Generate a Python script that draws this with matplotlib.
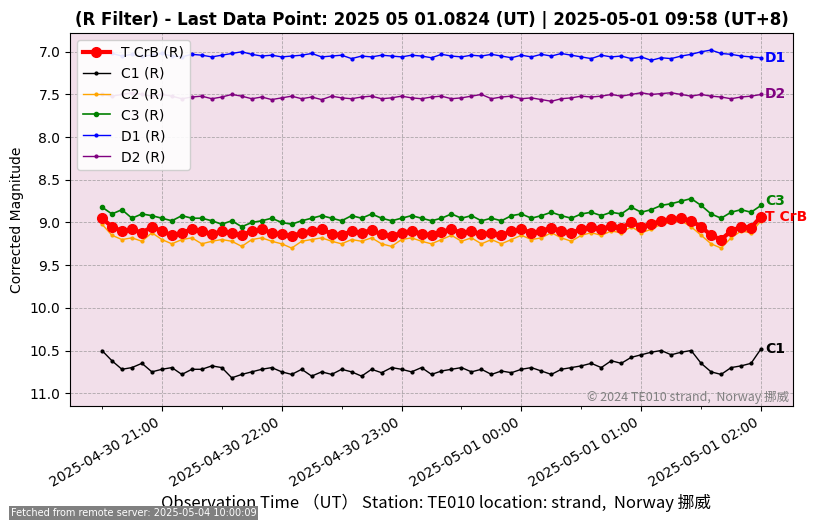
import matplotlib
matplotlib.use("Agg")
import matplotlib.pyplot as plt
import matplotlib.dates as mdates
import pandas as pd

times = pd.date_range('2025-04-30 20:30', '2025-05-01 02:00', freq='5min')

tcrb = [8.95,9.05,9.10,9.08,9.12,9.05,9.10,9.15,9.12,9.08,
        9.10,9.14,9.10,9.12,9.15,9.10,9.08,9.12,9.14,9.16,
        9.12,9.10,9.08,9.13,9.15,9.10,9.12,9.09,9.14,9.16,
        9.12,9.10,9.13,9.15,9.11,9.08,9.12,9.10,9.14,9.12,
        9.15,9.10,9.08,9.12,9.10,9.06,9.10,9.12,9.08,9.05,
        9.08,9.04,9.06,9.00,9.05,9.02,8.98,8.96,8.95,8.98,
        9.05,9.15,9.20,9.10,9.05,9.06,8.93]
c2 = [9.02,9.15,9.20,9.18,9.22,9.12,9.20,9.25,9.20,9.18,
      9.25,9.22,9.20,9.22,9.28,9.20,9.18,9.22,9.25,9.30,
      9.22,9.20,9.18,9.22,9.25,9.20,9.22,9.18,9.25,9.28,
      9.20,9.18,9.22,9.25,9.20,9.15,9.22,9.18,9.25,9.20,
      9.25,9.20,9.15,9.20,9.18,9.12,9.18,9.22,9.15,9.12,
      9.15,9.10,9.12,9.05,9.12,9.08,9.02,9.00,8.98,9.05,
      9.15,9.25,9.30,9.18,9.10,9.12,8.98]
c3 = [8.82,8.90,8.85,8.95,8.90,8.92,8.95,8.98,8.92,8.95,
      8.95,8.98,9.02,8.98,9.05,9.00,8.98,8.95,9.00,9.02,
      8.98,8.95,8.92,8.95,8.98,8.92,8.95,8.90,8.95,8.98,
      8.95,8.92,8.95,8.98,8.95,8.90,8.95,8.92,8.98,8.95,
      8.98,8.92,8.90,8.95,8.92,8.88,8.92,8.95,8.90,8.88,
      8.92,8.88,8.90,8.82,8.88,8.85,8.80,8.78,8.75,8.72,
      8.80,8.90,8.95,8.88,8.85,8.88,8.80]
c1 = [10.50,10.62,10.72,10.70,10.65,10.75,10.72,10.70,10.78,10.72,
      10.72,10.68,10.70,10.82,10.78,10.75,10.72,10.70,10.75,10.78,
      10.72,10.80,10.75,10.78,10.72,10.75,10.80,10.72,10.76,10.70,
      10.72,10.75,10.70,10.78,10.74,10.72,10.70,10.75,10.72,10.78,
      10.74,10.76,10.72,10.70,10.74,10.78,10.72,10.70,10.68,10.65,
      10.70,10.62,10.65,10.58,10.55,10.52,10.50,10.55,10.52,10.50,
      10.65,10.75,10.78,10.70,10.68,10.65,10.48]
d1 = [7.00,7.02,7.05,7.03,7.05,7.04,7.02,7.05,7.06,7.03,
      7.04,7.06,7.04,7.02,7.00,7.03,7.05,7.04,7.06,7.05,
      7.04,7.02,7.06,7.05,7.04,7.08,7.05,7.06,7.04,7.05,
      7.06,7.04,7.05,7.07,7.03,7.05,7.06,7.04,7.05,7.03,
      7.05,7.07,7.04,7.06,7.03,7.05,7.02,7.04,7.06,7.08,
      7.04,7.06,7.05,7.08,7.06,7.10,7.07,7.08,7.05,7.03,
      7.00,6.98,7.02,7.03,7.05,7.06,7.07]
d2 = [7.50,7.52,7.50,7.48,7.50,7.52,7.50,7.52,7.55,7.53,
      7.52,7.55,7.53,7.50,7.52,7.55,7.53,7.56,7.54,7.52,
      7.55,7.53,7.56,7.52,7.54,7.55,7.53,7.52,7.55,7.54,
      7.52,7.54,7.55,7.53,7.52,7.55,7.54,7.52,7.50,7.55,
      7.53,7.52,7.55,7.54,7.56,7.58,7.55,7.54,7.52,7.53,
      7.52,7.50,7.52,7.50,7.48,7.50,7.49,7.48,7.50,7.52,
      7.50,7.52,7.53,7.55,7.53,7.52,7.50]

fig = plt.figure(figsize=(8.15, 5.24), dpi=100)
ax = fig.add_axes([70/815, 1-406/524, 723/815, 373/524])
ax.set_facecolor('#f2dfea')

ax.plot(times, tcrb, '-o', color='red', lw=3, ms=7, label='T CrB (R)', zorder=5)
ax.plot(times, c1, '-o', color='black', lw=1, ms=2, label='C1 (R)')
ax.plot(times, c2, '-o', color='orange', lw=1, ms=2, label='C2 (R)')
ax.plot(times, c3, '-o', color='green', lw=1.2, ms=3, label='C3 (R)')
ax.plot(times, d1, '-o', color='blue', lw=1, ms=2, label='D1 (R)')
ax.plot(times, d2, '-o', color='purple', lw=1, ms=2, label='D2 (R)')

xt = times[-1] + pd.Timedelta(minutes=2)
for txt, y, col in [('D1', d1[-1], 'blue'), ('D2', d2[-1], 'purple'), ('C3', c3[-1] - 0.05, 'green'),
                    ('T CrB', tcrb[-1], 'red'), ('C1', c1[-1], 'black')]:
    ax.text(xt, y, txt, color=col, fontweight='bold', fontsize=10, va='center', ha='left')

ax.set_xlim(pd.Timestamp('2025-04-30 20:14'), pd.Timestamp('2025-05-01 02:16'))
ax.set_ylim(11.15, 6.78)
ax.xaxis.set_major_locator(mdates.HourLocator())
ax.xaxis.set_minor_locator(mdates.MinuteLocator(byminute=[30]))
ax.xaxis.set_major_formatter(mdates.DateFormatter('%Y-%m-%d %H:%M'))
plt.setp(ax.get_xticklabels(), rotation=30, ha='right', fontsize=10)
ax.grid(True, which='major', linestyle='--', color='gray', alpha=0.6, lw=0.6)
ax.set_ylabel('Corrected Magnitude', fontsize=10)
ax.set_title('(R Filter) - Last Data Point: 2025 05 01.0824 (UT) | 2025-05-01 09:58 (UT+8)',
             fontweight='bold', fontsize=12)
ax.legend(loc='upper left', fontsize=10, framealpha=0.9)
ax.text(0.995, 0.005, '© 2024 TE010 strand,  Norway 挪威', transform=ax.transAxes,
        ha='right', va='bottom', color='gray', fontsize=9, fontfamily='Noto Sans CJK JP')
fig.text(0.535, 0.022, 'Observation Time （UT） Station: TE010 location: strand,  Norway 挪威',
         ha='center', va='bottom', fontsize=12, fontfamily='Noto Sans CJK JP')
fig.text(0.013, 0.012, 'Fetched from remote server: 2025-05-04 10:00:09', fontsize=7, color='white',
         ha='left', va='bottom', bbox=dict(facecolor='gray', edgecolor='none', pad=1.5))
fig.savefig('out.png', dpi=100)
